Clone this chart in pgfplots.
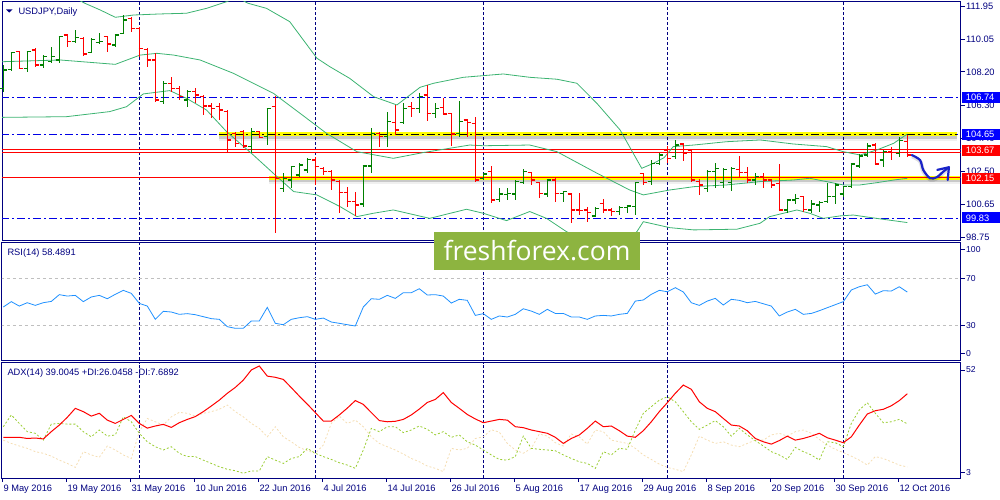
\documentclass[border=0pt]{standalone}
\usepackage{pgfplots}
\pgfplotsset{compat=1.18}
\usepackage{pgfplotstable}
\usepackage{fontspec}
\setmainfont{Liberation Sans}
\newfontfamily\wmfont{Open Sans}
\definecolor{navy}{RGB}{0,0,128}
\definecolor{mtgreen}{RGB}{0,128,0}
\definecolor{mtred}{RGB}{255,0,0}
\definecolor{bbgreen}{RGB}{60,179,113}
\definecolor{rsiblue}{RGB}{30,144,255}
\definecolor{pdi}{RGB}{154,205,50}
\definecolor{mdi}{RGB}{245,222,179}
\definecolor{lvlblue}{RGB}{0,0,230}
\definecolor{boxblue}{RGB}{0,0,255}
\definecolor{wmgreen}{RGB}{141,180,64}
\definecolor{arrowblue}{RGB}{25,35,200}
\definecolor{hlyellow}{RGB}{255,255,0}

\pgfdeclareplotmark{ohlcL}{\pgfpathmoveto{\pgfqpoint{-3.8pt}{0pt}}\pgfpathlineto{\pgfqpoint{0.6pt}{0pt}}\pgfusepathqstroke}
\pgfdeclareplotmark{ohlcR}{\pgfpathmoveto{\pgfqpoint{-0.6pt}{0pt}}\pgfpathlineto{\pgfqpoint{3.8pt}{0pt}}\pgfusepathqstroke}

\pgfplotstableread{
i o h l c
0 107.26 108.59 107.07 108.31
1 108.35 109.32 108.27 109.30
3 108.40 109.39 108.21 109.35
5 108.59 109.16 108.44 109.07
6 108.78 109.60 108.69 109.07
7 108.88 110.25 108.69 110.21
9 109.93 110.59 109.83 110.17
11 109.30 110.12 109.26 110.06
12 109.87 110.40 109.79 109.93
14 109.74 110.36 109.64 110.31
15 110.40 111.45 110.36 111.16
20 106.50 107.68 106.37 107.55
23 106.59 107.16 106.21 107.07
31 103.93 105.01 103.55 104.79
33 104.50 106.12 104.02 106.12
35 101.55 102.41 101.36 102.12
36 102.02 102.79 101.55 102.79
37 102.31 102.98 102.22 102.88
38 102.60 103.26 102.41 103.20
45 100.65 102.88 100.50 102.82
46 102.82 105.01 102.44 104.69
48 104.50 105.93 103.93 105.36
50 105.30 106.40 105.22 106.12
52 106.12 107.01 105.83 106.78
54 105.83 106.40 105.55 106.12
57 104.69 106.56 104.46 105.36
60 102.12 102.44 102.02 102.37
62 100.92 101.55 100.79 101.22
63 101.20 101.55 100.88 101.26
64 101.22 102.02 100.88 101.93
65 101.87 102.63 101.80 102.50
68 101.22 102.06 101.07 102.02
70 101.26 101.41 100.79 101.36
74 99.97 100.46 99.93 100.41
77 100.22 100.56 100.02 100.46
78 100.46 100.60 100.12 100.54
79 100.50 101.93 100.02 101.87
81 101.93 103.17 101.74 102.98
82 102.98 103.55 102.88 103.45
84 103.36 104.31 103.20 104.02
88 101.55 102.60 101.36 102.50
89 102.50 103.01 101.55 102.69
90 101.87 102.69 101.55 102.63
91 101.87 102.79 101.41 102.69
94 102.02 102.44 101.74 102.22
98 100.31 100.92 100.16 100.88
99 100.88 101.22 100.65 100.98
101 100.31 100.88 100.12 100.65
102 100.60 100.82 100.22 100.73
103 100.79 101.83 100.69 101.07
104 101.07 101.83 100.65 101.74
105 101.22 101.64 101.07 101.64
106 101.64 102.98 101.55 102.94
107 102.82 103.49 102.69 103.40
108 103.45 104.16 103.36 103.97
110 103.17 103.74 102.79 103.64
112 103.55 104.46 103.32 104.27
}\upbars

\pgfplotstableread{
i o h l c
2 109.35 109.39 108.35 108.40
4 109.45 109.55 108.50 108.59
8 110.31 110.36 109.64 109.93
10 110.12 110.17 109.11 109.22
13 110.21 110.25 109.35 109.79
16 111.26 111.35 110.50 110.69
17 110.69 110.78 109.07 109.55
18 109.49 109.55 108.50 108.88
19 108.88 109.26 106.50 106.59
21 107.55 107.89 107.07 107.26
22 107.26 107.39 106.59 106.78
24 107.07 107.26 106.40 106.88
25 106.78 106.88 105.74 106.25
26 106.25 106.40 105.55 106.12
27 106.21 106.40 105.45 106.02
28 105.93 106.02 103.55 104.31
29 104.69 104.79 103.93 104.12
30 104.79 104.88 103.83 103.97
32 104.79 104.84 104.40 104.46
34 106.21 106.82 98.98 102.12
39 103.17 103.36 101.74 102.79
40 102.69 102.79 102.31 102.50
41 102.50 102.60 101.45 102.02
42 101.93 102.02 100.12 101.30
43 101.32 101.64 100.50 100.79
44 100.79 101.36 99.97 100.60
47 104.69 104.79 103.89 104.50
49 105.32 106.31 104.60 104.88
51 106.21 106.50 105.64 106.12
53 106.88 107.45 105.41 105.83
55 106.16 106.73 105.74 105.80
56 105.83 105.87 103.97 104.65
58 105.45 105.49 104.46 105.30
59 105.26 105.64 101.93 102.02
61 102.50 102.82 100.69 100.88
66 102.44 102.50 101.74 102.02
67 101.87 101.93 100.98 101.26
69 102.02 102.22 100.79 101.26
71 101.22 101.26 99.55 100.31
72 100.31 101.26 100.02 100.27
73 100.31 100.50 99.64 100.16
75 100.69 100.92 100.12 100.31
76 100.31 100.41 99.97 100.22
80 102.41 102.44 101.74 101.87
83 103.74 103.97 102.98 103.26
85 104.08 104.16 103.13 103.55
86 103.70 103.74 101.93 102.02
87 101.93 102.06 101.17 101.74
92 102.63 103.40 102.22 102.44
93 102.44 102.75 101.87 102.02
95 102.22 102.41 101.55 102.02
96 102.02 102.06 101.55 101.74
97 101.83 102.94 100.27 100.31
100 101.07 101.11 100.22 100.35
109 104.02 104.12 102.88 102.94
111 103.64 103.93 103.17 103.59
113 104.21 104.60 103.36 103.45
}\downbars

\pgfplotstableread{
i v
0 45.7
1 50.3
2 46.5
3 49.4
4 47.1
5 49.4
6 50.5
7 56.3
8 55.1
9 55.7
10 50.3
11 54.3
12 55.7
13 52.8
14 56.6
15 60.0
16 57.4
17 48.8
18 46.5
19 35.1
20 42.0
21 41.4
22 39.4
23 40.0
24 39.1
25 37.4
26 35.7
27 35.1
28 28.8
29 27.4
30 27.4
31 33.7
32 33.7
33 45.4
34 31.7
35 30.5
36 35.1
37 36.5
38 37.4
39 35.1
40 36.2
41 32.8
42 31.7
43 30.5
44 29.4
45 45.7
46 52.8
47 52.3
48 55.7
49 53.1
50 58.0
51 58.0
52 61.4
53 56.0
54 56.3
55 55.1
56 49.1
57 52.3
58 51.4
59 38.5
60 40.0
61 35.1
62 38.0
63 37.1
64 39.4
65 44.2
66 42.2
67 39.4
68 43.7
69 40.2
70 40.2
71 37.1
72 37.1
73 35.1
74 38.0
75 38.5
76 38.0
77 39.4
78 40.2
79 50.8
80 51.7
81 56.6
82 60.0
83 58.8
84 62.3
85 58.6
86 49.4
87 47.1
88 50.8
89 53.1
90 47.4
91 52.3
92 51.4
93 49.4
94 50.5
95 48.5
96 46.5
97 38.0
98 41.4
99 43.7
100 39.4
101 40.2
102 42.5
103 45.1
104 47.7
105 50.3
106 60.3
107 63.1
108 64.8
109 56.8
110 59.7
111 59.4
112 63.1
113 58.5
}\rsidata

\pgfplotstableread{
i adx pdi mdi
0 20.3 24.8 19.1
1 20.3 29.8 17.7
2 20.3 26.2 16.6
3 19.8 22.7 15.6
4 20.0 22.0 14.2
5 19.6 19.1 13.5
6 22.7 25.9 12.3
7 25.5 26.2 10.6
8 28.8 25.9 9.2
9 32.6 25.9 7.5
10 31.2 22.7 14.2
11 29.3 20.5 12.8
12 30.5 23.4 11.8
13 27.6 20.8 16.6
14 26.2 21.3 14.9
15 27.9 29.0 12.8
16 29.6 26.9 11.3
17 26.2 22.0 22.7
18 24.2 18.4 28.3
19 25.1 16.3 26.9
20 25.8 14.9 25.5
21 24.5 16.3 29.0
22 26.5 13.5 30.9
23 27.9 12.1 30.5
24 29.1 12.1 29.3
25 31.2 10.6 30.5
26 33.6 9.2 31.2
27 36.1 7.8 32.2
28 39.0 6.7 34.0
29 41.5 6.1 31.2
30 44.6 5.0 29.0
31 48.9 6.0 26.2
32 50.6 6.0 24.1
33 46.3 12.1 20.5
34 45.8 10.6 24.8
35 44.9 9.2 20.5
36 41.4 11.3 18.4
37 37.8 12.1 16.0
38 34.4 15.6 14.6
39 30.8 13.5 13.5
40 27.2 12.1 17.0
41 27.2 10.9 26.2
42 29.8 9.5 29.3
43 32.7 8.5 26.2
44 35.9 7.1 27.6
45 34.3 14.9 24.8
46 30.8 24.1 20.5
47 27.4 22.7 17.7
48 26.9 24.8 16.3
49 27.1 24.8 14.9
50 27.9 22.3 13.2
51 29.8 23.4 11.3
52 32.3 25.1 9.9
53 35.1 23.7 8.1
54 36.4 21.3 7.1
55 39.3 22.7 5.7
56 35.1 20.3 15.6
57 32.6 21.3 14.9
58 30.0 18.4 15.6
59 28.1 17.0 19.8
60 26.5 14.9 20.5
61 27.2 12.8 23.5
62 27.9 10.9 22.5
63 27.6 10.6 17.7
64 24.8 12.1 14.9
65 24.4 20.8 13.5
66 23.4 15.6 15.6
67 22.7 15.2 21.7
68 22.0 14.9 20.8
69 20.3 14.6 18.0
70 17.7 12.8 16.6
71 19.8 11.3 21.7
72 21.3 9.9 20.5
73 24.1 9.2 17.4
74 27.2 7.1 23.4
75 24.8 14.2 22.7
76 25.1 12.8 19.1
77 23.1 15.6 18.4
78 20.8 15.2 17.7
79 20.3 23.4 15.6
80 23.1 30.5 12.8
81 26.9 33.3 10.9
82 31.2 36.1 8.9
83 35.0 37.5 7.5
84 39.0 35.4 6.7
85 42.5 31.2 5.7
86 40.7 26.9 12.8
87 35.4 23.7 20.8
88 32.6 25.5 19.1
89 31.2 27.4 17.7
90 28.3 24.8 18.4
91 25.5 20.8 17.0
92 25.1 24.1 16.3
93 23.1 21.3 17.7
94 19.8 18.9 19.1
95 18.4 16.6 19.1
96 17.4 14.2 21.3
97 18.9 12.8 22.0
98 20.8 10.9 20.8
99 19.1 16.0 22.7
100 19.8 14.2 23.4
101 20.8 12.8 22.0
102 22.0 10.6 19.4
103 20.1 18.4 17.0
104 19.1 18.0 15.2
105 18.0 16.3 13.8
106 20.5 26.2 12.3
107 25.5 31.9 10.6
108 30.2 35.0 8.5
109 31.6 30.5 12.1
110 32.2 26.5 11.3
111 33.7 26.9 9.9
112 35.9 27.9 8.5
113 38.8 26.0 7.7
}\adxdata

\pgfplotsset{
 mt/.style={
  scale only axis, width=958.7pt,
  xmin=-0.1625, xmax=119.675,
  anchor=north west,
  axis line style={navy, line width=1pt},
  tick style={navy, line width=0.8pt},
  major tick length=4pt, tick align=outside,
  ytick pos=right, yticklabel pos=right,
  xtick pos=bottom,
  extra x ticks={17,39,60,83,105},
  extra x tick labels={},
  extra x tick style={xmajorgrids=true, major tick length=0pt},
  major grid style={navy, line width=0.8pt, dash pattern=on 3pt off 2pt},
  yticklabel style={text=navy, anchor=west, inner sep=0pt, xshift=1.3pt},
 },
}
\newcommand{\lblfont}{\fontsize{9.3}{10}\selectfont}

\begin{document}
\begin{tikzpicture}
\useasboundingbox (0,0) rectangle (1000pt,-500pt);

% ---------------- main price panel
\begin{axis}[mt, at={(2pt,-2pt)}, height=238pt,
  ymin=98.593, ymax=112.193,
  xtick=\empty,
  ytick={98.75,100.65,102.50,104.40,106.30,108.20,110.05,111.95},
  yticklabels={98.75,100.65,102.50,104.40,106.30,108.20,110.05,111.95},
  yticklabel style={font=\lblfont}]
% level lines
\addplot[lvlblue, line width=0.9pt, dash pattern=on 8pt off 3pt on 2pt off 3pt] coordinates {(-0.3,106.74) (119.8,106.74)};
\addplot[lvlblue, line width=0.9pt, dash pattern=on 8pt off 3pt on 2pt off 3pt] coordinates {(-0.3,104.65) (119.8,104.65)};
\addplot[lvlblue, line width=0.9pt, dash pattern=on 8pt off 3pt on 2pt off 3pt] coordinates {(-0.3,99.83) (119.8,99.83)};
\addplot[mtred, line width=0.9pt] coordinates {(-0.3,103.745) (119.8,103.745)};
\addplot[mtred, line width=0.9pt] coordinates {(-0.3,103.595) (119.8,103.595)};
\addplot[mtred, line width=1.1pt] coordinates {(-0.3,102.15) (119.8,102.15)};
% highlight 104.65 (yellow with soft shadow)
\addplot[black, opacity=0.06, line width=8pt] coordinates {(26.96,104.50) (119.2,104.50)};
\addplot[black, opacity=0.16, line width=4.5pt] coordinates {(26.96,104.51) (119.2,104.51)};
\addplot[hlyellow, line width=4.2pt] coordinates {(26.96,104.66) (119.2,104.66)};
\addplot[black, line width=0.9pt, dash pattern=on 8pt off 3pt on 2pt off 3pt] coordinates {(26.96,104.65) (119.2,104.65)};
% highlight 102.15
\addplot[black, opacity=0.06, line width=8pt] coordinates {(33.2,102.00) (119.6,102.00)};
\addplot[black, opacity=0.16, line width=4.5pt] coordinates {(33.2,102.01) (119.6,102.01)};
\addplot[hlyellow, line width=4.2pt] coordinates {(33.2,102.15) (119.6,102.15)};
\addplot[mtred, line width=1.1pt] coordinates {(33.2,102.15) (119.6,102.15)};
% Bollinger bands
\addplot[bbgreen, line width=0.8pt] coordinates {(-0.2,112.5) (9,112.4) (10.2,112.12) (12.1,111.74) (14.0,111.32) (16.3,111.45) (19.6,111.51) (22.9,111.55) (25.4,111.83) (27.9,112.21) (29.2,112.45) (30.6,112.12) (32.9,111.83) (35.8,111.07) (39.2,108.98) (40.8,108.50) (43.3,107.83) (46.3,106.78) (49.2,106.31) (52.1,107.32) (53.8,107.55) (57.5,107.89) (62.5,108.08) (65.8,107.89) (69.2,107.78) (71.7,107.55) (74.2,106.40) (77.1,104.88) (79.8,102.69) (81.3,102.98) (82.6,103.3) (83.75,103.93) (86.3,104.02) (90.4,104.21) (94.6,104.31) (98.75,104.08) (102.9,103.93) (105,103.64) (107.1,103.45) (109.2,103.74) (111.3,104.12) (113,104.65)};
\addplot[bbgreen, line width=0.8pt] coordinates {(-0.2,108.78) (7.1,108.88) (14,108.63) (17.1,109.16) (19.2,109.26) (21.3,109.16) (24.6,108.88) (28.75,108.12) (33.75,106.98) (37.1,105.83) (40.4,104.69) (44.2,103.64) (48.75,103.26) (52.5,103.59) (58.3,104.02) (60,103.98) (65.8,104.02) (69.2,103.64) (74.2,102.41) (78.3,101.45) (80,101.17) (83.3,101.45) (86.3,101.64) (90.4,101.74) (94.6,101.93) (98.75,102.02) (100.8,102.12) (102.9,101.93) (105,101.74) (107.1,101.74) (109.2,101.87) (111.3,102.02) (113,102.12)};
\addplot[bbgreen, line width=0.8pt] coordinates {(-0.2,105.60) (7.9,105.64) (13.3,105.93) (15.4,106.21) (17.5,106.94) (20.8,107.13) (22.9,106.69) (25.4,106.02) (27.9,104.79) (31.25,103.45) (34.2,102.22) (36.3,101.36) (39.2,101.17) (42.1,100.50) (44.2,99.93) (46.25,100.12) (48.75,100.31) (53.3,99.83) (57.9,100.35) (60,100.12) (62.9,99.70) (65.8,100.22) (67.9,99.83) (70.4,99.07) (72.5,98.60) (75,98.3) (77.5,98.4) (79.2,99.07) (80,99.64) (83.3,99.30) (86.3,99.17) (91.7,99.21) (94.6,99.55) (95.8,99.93) (99.2,100.31) (100.8,100.12) (102.5,99.83) (104.6,99.97) (106.25,100.02) (109.6,99.80) (113,99.59)};
% OHLC bars
\addplot[mtgreen, only marks, mark=ohlcR, mark options={line width=1.4pt, solid},
  error bars/.cd, y dir=both, y explicit, error mark=none,
  error bar style={line width=1.4pt, mtgreen}]
  table[x=i, y=c, y error plus expr=\thisrow{h}-\thisrow{c}, y error minus expr=\thisrow{c}-\thisrow{l}] {\upbars};
\addplot[mtgreen, only marks, mark=ohlcL, mark options={line width=1.4pt, solid}] table[x=i, y=o] {\upbars};
\addplot[mtred, only marks, mark=ohlcR, mark options={line width=1.4pt, solid},
  error bars/.cd, y dir=both, y explicit, error mark=none,
  error bar style={line width=1.4pt, mtred}]
  table[x=i, y=c, y error plus expr=\thisrow{h}-\thisrow{c}, y error minus expr=\thisrow{c}-\thisrow{l}] {\downbars};
\addplot[mtred, only marks, mark=ohlcL, mark options={line width=1.4pt, solid}] table[x=i, y=o] {\downbars};
% hand-drawn arrow
\addplot[black, opacity=0.12, line width=4pt, smooth] coordinates {(113.6,103.38) (114.6,103.09) (115.0,102.52) (115.84,102.05) (116.68,102.11) (117.5,102.43) (118.2,102.68)};
\addplot[arrowblue, line width=2.2pt, smooth, line cap=round] coordinates {(113.55,103.45) (114.59,103.16) (115.0,102.59) (115.84,102.12) (116.68,102.18) (117.5,102.50) (118.2,102.75)};
\addplot[arrowblue, line width=2.2pt, line cap=round, line join=round] coordinates {(116.75,102.60) (118.2,102.75) (118.05,102.02)};
\end{axis}

% ---------------- RSI panel
\begin{axis}[mt, at={(2pt,-242.7pt)}, height=117.3pt,
  ymin=0.2, ymax=100.9,
  xtick=\empty,
  ytick={6,30,70,95.2}, yticklabels={0,30,70,100},
  yticklabel style={font=\fontsize{8.6}{9}\selectfont}]
\addplot[black!25, line width=0.8pt, dash pattern=on 3pt off 3pt] coordinates {(-0.3,70) (119.8,70)};
\addplot[black!25, line width=0.8pt, dash pattern=on 3pt off 3pt] coordinates {(-0.3,30) (119.8,30)};
\addplot[rsiblue, line width=0.8pt] table[x=i, y=v] {\rsidata};
\end{axis}

% ---------------- ADX panel
\begin{axis}[mt, at={(2pt,-362.7pt)}, height=115.3pt,
  ymin=3, ymax=52,
  ytick={5.25,48.9}, yticklabels={3,52},
  yticklabel style={font=\fontsize{8.6}{9}\selectfont},
  xtick={-0.07,7.93,15.93,23.93,31.93,39.93,47.93,55.93,63.93,71.93,79.93,87.93,95.93,103.93,111.93},
  xticklabels={9 May 2016,19 May 2016,31 May 2016,10 Jun 2016,22 Jun 2016,4 Jul 2016,14 Jul 2016,26 Jul 2016,5 Aug 2016,17 Aug 2016,29 Aug 2016,8 Sep 2016,20 Sep 2016,30 Sep 2016,12 Oct 2016},
  xticklabel style={font=\lblfont, text=navy, anchor=north west, inner sep=0pt, xshift=0.6pt, yshift=-3pt}]
\addplot[mdi, line width=0.8pt, dash pattern=on 2pt off 2pt] table[x=i, y=mdi] {\adxdata};
\addplot[pdi, line width=0.8pt, dash pattern=on 2pt off 2pt] table[x=i, y=pdi] {\adxdata};
\addplot[mtred, line width=1pt] table[x=i, y=adx] {\adxdata};
\end{axis}

% ---------------- panel captions
\fill[navy] (6pt,-9.3pt) -- (12.7pt,-9.3pt) -- (9.35pt,-12.6pt) -- cycle;
\node[anchor=base west, inner sep=0pt, text=navy, font=\lblfont] at (18.3pt,-14.3pt) {USDJPY,Daily};
\node[anchor=base west, inner sep=0pt, text=navy, font=\lblfont] at (7.3pt,-255pt) {RSI(14) 58.4891};
\node[anchor=base west, inner sep=0pt, text=navy, font=\lblfont] at (7.3pt,-375pt) {ADX(14) 39.0045 +DI:26.0458 -DI:7.6892};

% ---------------- price level labels
\fill[boxblue] (961.7pt,-92pt) rectangle (999.5pt,-103pt);
\node[anchor=west, inner sep=0pt, text=white, font=\lblfont] at (965.7pt,-97.5pt) {106.74};
\fill[boxblue] (961.7pt,-128.5pt) rectangle (999.5pt,-139.5pt);
\node[anchor=west, inner sep=0pt, text=white, font=\lblfont] at (965.7pt,-134pt) {104.65};
\fill[mtred] (961.7pt,-145.2pt) rectangle (999.5pt,-156.2pt);
\node[anchor=west, inner sep=0pt, text=white, font=\lblfont] at (965.7pt,-150.7pt) {103.67};
\fill[mtred] (961.7pt,-172.5pt) rectangle (999.5pt,-183.5pt);
\node[anchor=west, inner sep=0pt, text=white, font=\lblfont] at (965.7pt,-178pt) {102.15};
\fill[boxblue] (961.7pt,-212.3pt) rectangle (999.5pt,-223.3pt);
\node[anchor=west, inner sep=0pt, text=white, font=\lblfont] at (965.7pt,-217.8pt) {99.83};

% ---------------- watermark
\fill[wmgreen] (434pt,-231.7pt) rectangle (640pt,-270pt);
\node[anchor=base, inner sep=0pt, text=white, font=\wmfont\fontsize{26.5}{30}\selectfont] at (537pt,-260pt) {freshforex.com};
\end{tikzpicture}
\end{document}
